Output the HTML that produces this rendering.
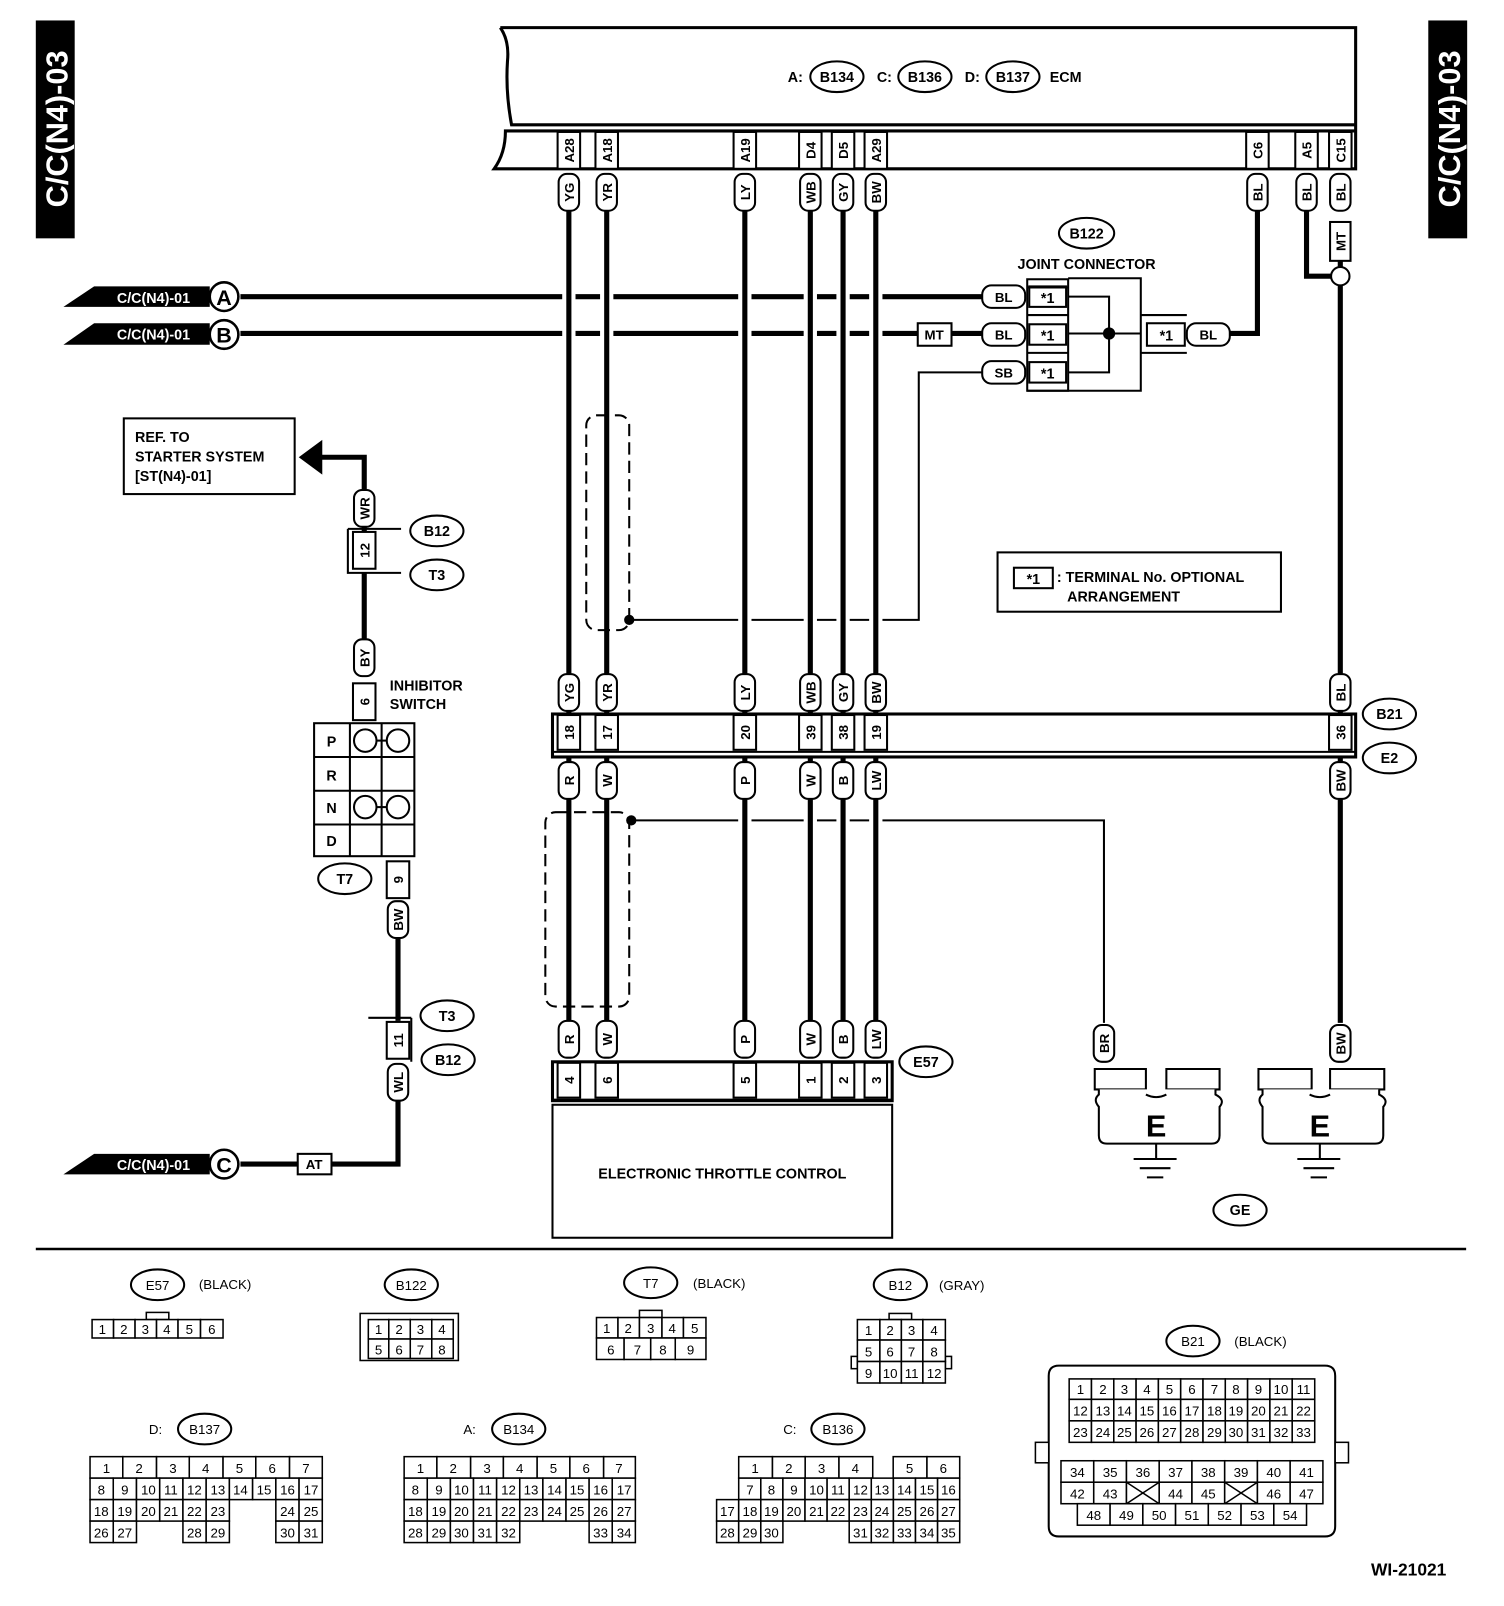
<!DOCTYPE html>
<html><head><meta charset="utf-8"><style>
html,body{margin:0;padding:0;background:#fff}
svg{display:block}
text{font-family:"Liberation Sans",Arial,sans-serif;font-weight:bold;fill:#000}
.p rect{fill:#fff;stroke:#000;stroke-width:2}
.p text{font-size:13px;text-anchor:middle}
.w{stroke:#000;stroke-width:5;fill:none}
.h{stroke:#fff;stroke-width:13;fill:none}
.t{fill:none;stroke:#000;stroke-width:2}
.c text{font-size:13px;text-anchor:middle;font-weight:normal}
.c rect{fill:#fff;stroke:#000;stroke-width:1.5}
</style></head><body>
<svg width="1504" height="1606" viewBox="0 0 1470 1570" preserveAspectRatio="none" xmlns="http://www.w3.org/2000/svg">
<!-- side tags -->
<rect x="35" y="20" width="38" height="213" fill="#000"/>
<text transform="translate(66,126) rotate(-90)" font-size="30" text-anchor="middle" style="fill:#fff">C/C(N4)-03</text>
<rect x="1396" y="20" width="38" height="213" fill="#000"/>
<text transform="translate(1427,126) rotate(-90)" font-size="30" text-anchor="middle" style="fill:#fff">C/C(N4)-03</text>

<!-- ECM -->
<path d="M489,27 L1325,27 L1325,165 L483,165 Q494,150 494,128 L1325,128 M1325,122 L500,122 Q494,90 496,60 Q498,40 489,27" fill="none" stroke="#000" stroke-width="3"/>
<text x="770" y="80" font-size="14">A:</text>
<ellipse cx="818" cy="75" rx="26" ry="15" class="t"/><text x="818" y="80" font-size="14" text-anchor="middle">B134</text>
<text x="857" y="80" font-size="14">C:</text>
<ellipse cx="904" cy="75" rx="26" ry="15" class="t"/><text x="904" y="80" font-size="14" text-anchor="middle">B136</text>
<text x="943" y="80" font-size="14">D:</text>
<ellipse cx="990" cy="75" rx="26" ry="15" class="t"/><text x="990" y="80" font-size="14" text-anchor="middle">B137</text>
<text x="1026" y="80" font-size="14">ECM</text>

<!-- horizontal wires A,B and thin shield lines -->
<path class="w" d="M235,290H962M235,326H897M930,326H962"/>
<path d="M615,606H898V364H962" fill="none" stroke="#000" stroke-width="2"/>
<path d="M617,802H1079V1000" fill="none" stroke="#000" stroke-width="2"/>
<!-- halos for crossings -->
<g class="h"><path d="M556,282V298M593,282V298M728,282V298M792,282V298M824,282V298M856,282V298M556,318V334M593,318V334M728,318V334M792,318V334M824,318V334M856,318V334M728,600V612M792,600V612M824,600V612M856,600V612M728,796V808M792,796V808M824,796V808M856,796V808"/></g>
<!-- vertical main wires -->
<g class="w">
<path d="M556,205V1000M593,205V1000M728,205V1000M792,205V1000M824,205V1000M856,205V1000"/>
<path d="M1229,205V326H1200"/>
<path d="M1277,205V270H1303"/>
<path d="M1310,255V262M1310,278V1000"/>
</g>
<circle cx="1310" cy="270" r="9" fill="#fff" stroke="#000" stroke-width="2"/>

<!-- ECM terminal boxes -->
<g class="p">
<g transform="translate(556,147)"><rect x="-11" y="-18" width="22" height="36"/><text transform="rotate(-90)" y="5">A28</text></g>
<g transform="translate(593,147)"><rect x="-11" y="-18" width="22" height="36"/><text transform="rotate(-90)" y="5">A18</text></g>
<g transform="translate(728,147)"><rect x="-11" y="-18" width="22" height="36"/><text transform="rotate(-90)" y="5">A19</text></g>
<g transform="translate(792,147)"><rect x="-11" y="-18" width="22" height="36"/><text transform="rotate(-90)" y="5">D4</text></g>
<g transform="translate(824,147)"><rect x="-11" y="-18" width="22" height="36"/><text transform="rotate(-90)" y="5">D5</text></g>
<g transform="translate(856,147)"><rect x="-11" y="-18" width="22" height="36"/><text transform="rotate(-90)" y="5">A29</text></g>
<g transform="translate(1229,147)"><rect x="-11" y="-18" width="22" height="36"/><text transform="rotate(-90)" y="5">C6</text></g>
<g transform="translate(1277,147)"><rect x="-11" y="-18" width="22" height="36"/><text transform="rotate(-90)" y="5">A5</text></g>
<g transform="translate(1310,147)"><rect x="-11" y="-18" width="22" height="36"/><text transform="rotate(-90)" y="5">C15</text></g>
<g transform="translate(556,188)"><rect x="-10" y="-18" width="20" height="36" rx="8"/><text transform="rotate(-90)" y="5">YG</text></g>
<g transform="translate(593,188)"><rect x="-10" y="-18" width="20" height="36" rx="8"/><text transform="rotate(-90)" y="5">YR</text></g>
<g transform="translate(728,188)"><rect x="-10" y="-18" width="20" height="36" rx="8"/><text transform="rotate(-90)" y="5">LY</text></g>
<g transform="translate(792,188)"><rect x="-10" y="-18" width="20" height="36" rx="8"/><text transform="rotate(-90)" y="5">WB</text></g>
<g transform="translate(824,188)"><rect x="-10" y="-18" width="20" height="36" rx="8"/><text transform="rotate(-90)" y="5">GY</text></g>
<g transform="translate(856,188)"><rect x="-10" y="-18" width="20" height="36" rx="8"/><text transform="rotate(-90)" y="5">BW</text></g>
<g transform="translate(1229,188)"><rect x="-10" y="-18" width="20" height="36" rx="8"/><text transform="rotate(-90)" y="5">BL</text></g>
<g transform="translate(1277,188)"><rect x="-10" y="-18" width="20" height="36" rx="8"/><text transform="rotate(-90)" y="5">BL</text></g>
<g transform="translate(1310,188)"><rect x="-10" y="-18" width="20" height="36" rx="8"/><text transform="rotate(-90)" y="5">BL</text></g>
<g transform="translate(1310,236)"><rect x="-10" y="-19" width="20" height="38"/><text transform="rotate(-90)" y="5">MT</text></g>
<g transform="translate(556,677)"><rect x="-10" y="-18" width="20" height="36" rx="8"/><text transform="rotate(-90)" y="5">YG</text></g>
<g transform="translate(593,677)"><rect x="-10" y="-18" width="20" height="36" rx="8"/><text transform="rotate(-90)" y="5">YR</text></g>
<g transform="translate(728,677)"><rect x="-10" y="-18" width="20" height="36" rx="8"/><text transform="rotate(-90)" y="5">LY</text></g>
<g transform="translate(792,677)"><rect x="-10" y="-18" width="20" height="36" rx="8"/><text transform="rotate(-90)" y="5">WB</text></g>
<g transform="translate(824,677)"><rect x="-10" y="-18" width="20" height="36" rx="8"/><text transform="rotate(-90)" y="5">GY</text></g>
<g transform="translate(856,677)"><rect x="-10" y="-18" width="20" height="36" rx="8"/><text transform="rotate(-90)" y="5">BW</text></g>
<g transform="translate(1310,677)"><rect x="-10" y="-18" width="20" height="36" rx="8"/><text transform="rotate(-90)" y="5">BL</text></g>
</g>
<!-- B21/E2 strip -->
<rect x="540" y="698" width="785" height="42" fill="#fff" stroke="#000" stroke-width="3"/>
<line x1="540" y1="735" x2="1325" y2="735" stroke="#000" stroke-width="2"/>
<g class="p">
<g transform="translate(556,716)"><rect x="-11" y="-17" width="22" height="34"/><text transform="rotate(-90)" y="5">18</text></g>
<g transform="translate(593,716)"><rect x="-11" y="-17" width="22" height="34"/><text transform="rotate(-90)" y="5">17</text></g>
<g transform="translate(728,716)"><rect x="-11" y="-17" width="22" height="34"/><text transform="rotate(-90)" y="5">20</text></g>
<g transform="translate(792,716)"><rect x="-11" y="-17" width="22" height="34"/><text transform="rotate(-90)" y="5">39</text></g>
<g transform="translate(824,716)"><rect x="-11" y="-17" width="22" height="34"/><text transform="rotate(-90)" y="5">38</text></g>
<g transform="translate(856,716)"><rect x="-11" y="-17" width="22" height="34"/><text transform="rotate(-90)" y="5">19</text></g>
<g transform="translate(1310,716)"><rect x="-11" y="-17" width="22" height="34"/><text transform="rotate(-90)" y="5">36</text></g>
<g transform="translate(556,763)"><rect x="-10" y="-18" width="20" height="36" rx="8"/><text transform="rotate(-90)" y="5">R</text></g>
<g transform="translate(593,763)"><rect x="-10" y="-18" width="20" height="36" rx="8"/><text transform="rotate(-90)" y="5">W</text></g>
<g transform="translate(728,763)"><rect x="-10" y="-18" width="20" height="36" rx="8"/><text transform="rotate(-90)" y="5">P</text></g>
<g transform="translate(792,763)"><rect x="-10" y="-18" width="20" height="36" rx="8"/><text transform="rotate(-90)" y="5">W</text></g>
<g transform="translate(824,763)"><rect x="-10" y="-18" width="20" height="36" rx="8"/><text transform="rotate(-90)" y="5">B</text></g>
<g transform="translate(856,763)"><rect x="-10" y="-18" width="20" height="36" rx="8"/><text transform="rotate(-90)" y="5">LW</text></g>
<g transform="translate(1310,763)"><rect x="-10" y="-18" width="20" height="36" rx="8"/><text transform="rotate(-90)" y="5">BW</text></g>
<g transform="translate(556,1016)"><rect x="-10" y="-18" width="20" height="36" rx="8"/><text transform="rotate(-90)" y="5">R</text></g>
<g transform="translate(593,1016)"><rect x="-10" y="-18" width="20" height="36" rx="8"/><text transform="rotate(-90)" y="5">W</text></g>
<g transform="translate(728,1016)"><rect x="-10" y="-18" width="20" height="36" rx="8"/><text transform="rotate(-90)" y="5">P</text></g>
<g transform="translate(792,1016)"><rect x="-10" y="-18" width="20" height="36" rx="8"/><text transform="rotate(-90)" y="5">W</text></g>
<g transform="translate(824,1016)"><rect x="-10" y="-18" width="20" height="36" rx="8"/><text transform="rotate(-90)" y="5">B</text></g>
<g transform="translate(856,1016)"><rect x="-10" y="-18" width="20" height="36" rx="8"/><text transform="rotate(-90)" y="5">LW</text></g>
<g transform="translate(1310,1020)"><rect x="-10" y="-18" width="20" height="36" rx="8"/><text transform="rotate(-90)" y="5">BW</text></g>
<g transform="translate(1079,1020)"><rect x="-10" y="-18" width="20" height="36" rx="8"/><text transform="rotate(-90)" y="5">BR</text></g>
</g>
<ellipse cx="1358" cy="698" rx="26" ry="15" class="t"/><text x="1358" y="703" font-size="14" text-anchor="middle">B21</text>
<ellipse cx="1358" cy="741" rx="26" ry="15" class="t"/><text x="1358" y="746" font-size="14" text-anchor="middle">E2</text>

<!-- E57 strip + ETC -->
<rect x="540" y="1038" width="332" height="38" fill="#fff" stroke="#000" stroke-width="3"/>
<line x1="540" y1="1075" x2="872" y2="1075" stroke="#000" stroke-width="2"/>
<g class="p">
<g transform="translate(556,1056)"><rect x="-11" y="-17" width="22" height="34"/><text transform="rotate(-90)" y="5">4</text></g>
<g transform="translate(593,1056)"><rect x="-11" y="-17" width="22" height="34"/><text transform="rotate(-90)" y="5">6</text></g>
<g transform="translate(728,1056)"><rect x="-11" y="-17" width="22" height="34"/><text transform="rotate(-90)" y="5">5</text></g>
<g transform="translate(792,1056)"><rect x="-11" y="-17" width="22" height="34"/><text transform="rotate(-90)" y="5">1</text></g>
<g transform="translate(824,1056)"><rect x="-11" y="-17" width="22" height="34"/><text transform="rotate(-90)" y="5">2</text></g>
<g transform="translate(856,1056)"><rect x="-11" y="-17" width="22" height="34"/><text transform="rotate(-90)" y="5">3</text></g>
</g>
<ellipse cx="905" cy="1038" rx="26" ry="15" class="t"/><text x="905" y="1043" font-size="14" text-anchor="middle">E57</text>
<rect x="540" y="1080" width="332" height="130" fill="none" stroke="#000" stroke-width="2"/>
<text x="706" y="1152" font-size="14" text-anchor="middle">ELECTRONIC THROTTLE CONTROL</text>

<!-- shields -->
<rect x="573" y="406" width="42" height="210" rx="10" fill="none" stroke="#000" stroke-width="2" stroke-dasharray="12,6"/>
<rect x="533" y="794" width="82" height="190" rx="10" fill="none" stroke="#000" stroke-width="2" stroke-dasharray="12,6"/>
<circle cx="615" cy="606" r="5"/><circle cx="617" cy="802" r="5"/>

<!-- left tags A B C -->
<polygon points="62,300 92,280 205,280 205,300" fill="#000"/><text x="150" y="296" font-size="14" text-anchor="middle" font-weight="normal" style="fill:#fff">C/C(N4)-01</text>
<circle cx="219" cy="290" r="14" fill="#fff" stroke="#000" stroke-width="2.5"/><text x="219" y="298" font-size="21" text-anchor="middle">A</text>
<polygon points="62,337 92,316 205,316 205,337" fill="#000"/><text x="150" y="332" font-size="14" text-anchor="middle" font-weight="normal" style="fill:#fff">C/C(N4)-01</text>
<circle cx="219" cy="327" r="14" fill="#fff" stroke="#000" stroke-width="2.5"/><text x="219" y="335" font-size="21" text-anchor="middle">B</text>
<polygon points="62,1148 92,1128 205,1128 205,1148" fill="#000"/><text x="150" y="1144" font-size="14" text-anchor="middle" font-weight="normal" style="fill:#fff">C/C(N4)-01</text>
<circle cx="219" cy="1138" r="14" fill="#fff" stroke="#000" stroke-width="2.5"/><text x="219" y="1146" font-size="21" text-anchor="middle">C</text>

<!-- left circuit wires -->
<path class="w" d="M313,447H356V480M356,515V520M356,560V627M389,918V998M389,1075V1138H235"/>

<!-- joint connector -->
<g class="p">
<rect x="960" y="279" width="42" height="22" rx="9"/><text x="981" y="295">BL</text>
<rect x="960" y="316" width="42" height="22" rx="9"/><text x="981" y="332">BL</text>
<rect x="960" y="353" width="42" height="22" rx="9"/><text x="981" y="369">SB</text>
<rect x="897" y="316" width="33" height="22"/><text x="913" y="332">MT</text>
<rect x="1160" y="316" width="42" height="22" rx="9"/><text x="1181" y="332">BL</text>
<rect x="291" y="1128" width="33" height="20"/><text x="307" y="1143">AT</text>
</g>
<rect x="1004" y="273" width="40" height="109" fill="none" stroke="#000" stroke-width="2"/>
<g fill="none" stroke="#000" stroke-width="2">
<path d="M1004,281H1044M1004,308H1044M1004,345H1044M1004,382H1044"/>
<rect x="1006" y="280" width="36" height="20"/><rect x="1006" y="317" width="36" height="20"/><rect x="1006" y="354" width="36" height="20"/>
<path d="M1044,272H1115V382H1044"/>
<path d="M1044,290H1084V364H1044M1044,326H1115"/>
<path d="M1115,308H1160M1115,345H1160"/>
<rect x="1121" y="316" width="37" height="22"/>
</g>
<circle cx="1084" cy="326" r="6"/>
<text x="1024" y="296" font-size="14" text-anchor="middle">*1</text>
<text x="1024" y="333" font-size="14" text-anchor="middle">*1</text>
<text x="1024" y="370" font-size="14" text-anchor="middle">*1</text>
<text x="1140" y="333" font-size="14" text-anchor="middle">*1</text>
<ellipse cx="1062" cy="228" rx="27" ry="15" class="t"/><text x="1062" y="233" font-size="14" text-anchor="middle">B122</text>
<text x="1062" y="263" font-size="14" text-anchor="middle">JOINT CONNECTOR</text>

<!-- legend -->
<rect x="975" y="540" width="277" height="58" fill="none" stroke="#000" stroke-width="2"/>
<rect x="991" y="555" width="38" height="20" fill="none" stroke="#000" stroke-width="2"/>
<text x="1010" y="571" font-size="14" text-anchor="middle">*1</text>
<text x="1033" y="569" font-size="14">: TERMINAL No. OPTIONAL</text>
<text x="1043" y="588" font-size="14">ARRANGEMENT</text>

<!-- left circuit -->
<rect x="121" y="409" width="167" height="74" fill="none" stroke="#000" stroke-width="2"/>
<text x="132" y="432" font-size="14">REF. TO</text>
<text x="132" y="451" font-size="14">STARTER SYSTEM</text>
<text x="132" y="470" font-size="14">[ST(N4)-01]</text>
<polygon points="292,447 315,430 315,464" fill="#000"/>
<g class="p">
<g transform="translate(356,497)"><rect x="-10" y="-18" width="20" height="36" rx="8"/><text transform="rotate(-90)" y="5">WR</text></g>
<g transform="translate(356,643)"><rect x="-10" y="-18" width="20" height="36" rx="8"/><text transform="rotate(-90)" y="5">BY</text></g>
<g transform="translate(389,899)"><rect x="-10" y="-18" width="20" height="36" rx="8"/><text transform="rotate(-90)" y="5">BW</text></g>
<g transform="translate(389,1058)"><rect x="-10" y="-18" width="20" height="36" rx="8"/><text transform="rotate(-90)" y="5">WL</text></g>
<g transform="translate(356,538)"><rect x="-11" y="-18" width="22" height="36"/><text transform="rotate(-90)" y="5">12</text></g>
<g transform="translate(356,686)"><rect x="-11" y="-18" width="22" height="36"/><text transform="rotate(-90)" y="5">6</text></g>
<g transform="translate(389,860)"><rect x="-11" y="-18" width="22" height="36"/><text transform="rotate(-90)" y="5">9</text></g>
<g transform="translate(389,1017)"><rect x="-11" y="-18" width="22" height="36"/><text transform="rotate(-90)" y="5">11</text></g>
</g>
<path d="M340,517H392M340,517V560H392M402,995H360M402,995V1038" fill="none" stroke="#000" stroke-width="2"/>
<ellipse cx="427" cy="519" rx="26" ry="15" class="t"/><text x="427" y="524" font-size="14" text-anchor="middle">B12</text>
<ellipse cx="427" cy="562" rx="26" ry="15" class="t"/><text x="427" y="567" font-size="14" text-anchor="middle">T3</text>
<ellipse cx="437" cy="993" rx="26" ry="15" class="t"/><text x="437" y="998" font-size="14" text-anchor="middle">T3</text>
<ellipse cx="438" cy="1036" rx="26" ry="15" class="t"/><text x="438" y="1041" font-size="14" text-anchor="middle">B12</text>
<text x="381" y="675" font-size="14">INHIBITOR</text>
<text x="381" y="693" font-size="14">SWITCH</text>
<g fill="none" stroke="#000" stroke-width="2">
<rect x="307" y="707" width="98" height="130"/>
<path d="M342,707V837M373,707V837M307,740H405M307,773H405M307,806H405"/>
<circle cx="357" cy="724" r="11"/><circle cx="389" cy="724" r="11"/><path d="M368,724H378"/>
<circle cx="357" cy="789" r="11"/><circle cx="389" cy="789" r="11"/><path d="M368,789H378"/>
</g>
<text x="324" y="730" font-size="14" text-anchor="middle">P</text>
<text x="324" y="763" font-size="14" text-anchor="middle">R</text>
<text x="324" y="795" font-size="14" text-anchor="middle">N</text>
<text x="324" y="827" font-size="14" text-anchor="middle">D</text>
<ellipse cx="337" cy="859" rx="26" ry="15" class="t"/><text x="337" y="864" font-size="14" text-anchor="middle">T7</text>

<!-- grounds -->
<g fill="#fff" stroke="#000" stroke-width="2">
<path d="M1070,1045H1120V1065H1070Z M1140,1045H1192V1065H1140Z"/>
<path d="M1074,1065V1070Q1068,1075 1074,1082V1110Q1074,1118 1082,1118H1184Q1192,1118 1192,1110V1082Q1198,1075 1188,1070V1065"/>
<path d="M1230,1045H1282V1065H1230Z M1300,1045H1353V1065H1300Z"/>
<path d="M1234,1065V1070Q1228,1075 1234,1082V1110Q1234,1118 1242,1118H1344Q1352,1118 1352,1110V1082Q1358,1075 1348,1070V1065"/>
</g>
<path d="M1120,1070Q1130,1075 1140,1070M1280,1070Q1290,1075 1300,1070" fill="none" stroke="#000" stroke-width="2"/>
<text x="1130" y="1111" font-size="30" text-anchor="middle">E</text>
<text x="1290" y="1111" font-size="30" text-anchor="middle">E</text>
<path d="M1108,1133H1150M1114,1142H1144M1121,1151H1137M1268,1133H1310M1274,1142H1304M1281,1151H1297" stroke="#000" stroke-width="2"/>
<path d="M1130,1118V1133M1290,1118V1133" stroke="#000" stroke-width="2"/>
<ellipse cx="1212" cy="1183" rx="26" ry="15" class="t"/><text x="1212" y="1188" font-size="14" text-anchor="middle">GE</text>

<line x1="35" y1="1221" x2="1433" y2="1221" stroke="#000" stroke-width="2.5"/>

<!-- connector legends -->
<g class="c">
<ellipse cx="154" cy="1256" rx="26" ry="15" class="t"/><text x="154" y="1261" font-size="14" font-weight="bold">E57</text>
<text x="220" y="1260" font-weight="bold" font-size="14">(BLACK)</text>
<rect x="143" y="1283" width="22" height="7"/>
<rect x="90" y="1290" width="21" height="18"/><text x="100" y="1304">1</text>
<rect x="111" y="1290" width="21" height="18"/><text x="121" y="1304">2</text>
<rect x="132" y="1290" width="21" height="18"/><text x="142" y="1304">3</text>
<rect x="153" y="1290" width="21" height="18"/><text x="163" y="1304">4</text>
<rect x="174" y="1290" width="22" height="18"/><text x="185" y="1304">5</text>
<rect x="196" y="1290" width="22" height="18"/><text x="207" y="1304">6</text>
<ellipse cx="402" cy="1256" rx="26" ry="15" class="t"/><text x="402" y="1261" font-size="14" font-weight="bold">B122</text>
<rect x="352" y="1284" width="96" height="46"/>
<rect x="360" y="1290" width="20" height="19"/><text x="370" y="1304">1</text>
<rect x="380" y="1290" width="21" height="19"/><text x="390" y="1304">2</text>
<rect x="401" y="1290" width="21" height="19"/><text x="411" y="1304">3</text>
<rect x="422" y="1290" width="21" height="19"/><text x="432" y="1304">4</text>
<rect x="360" y="1309" width="20" height="19"/><text x="370" y="1324">5</text>
<rect x="380" y="1309" width="21" height="19"/><text x="390" y="1324">6</text>
<rect x="401" y="1309" width="21" height="19"/><text x="411" y="1324">7</text>
<rect x="422" y="1309" width="21" height="19"/><text x="432" y="1324">8</text>
<ellipse cx="636" cy="1254" rx="26" ry="15" class="t"/><text x="636" y="1259" font-size="14" font-weight="bold">T7</text>
<text x="703" y="1259" font-weight="bold" font-size="14">(BLACK)</text>
<rect x="625" y="1281" width="22" height="7"/>
<rect x="583" y="1288" width="21" height="20"/><text x="593" y="1303">1</text>
<rect x="604" y="1288" width="21" height="20"/><text x="614" y="1303">2</text>
<rect x="625" y="1288" width="22" height="20"/><text x="636" y="1303">3</text>
<rect x="647" y="1288" width="21" height="20"/><text x="657" y="1303">4</text>
<rect x="668" y="1288" width="22" height="20"/><text x="679" y="1303">5</text>
<rect x="583" y="1308" width="27" height="21"/><text x="597" y="1324">6</text>
<rect x="610" y="1308" width="26" height="21"/><text x="623" y="1324">7</text>
<rect x="636" y="1308" width="24" height="21"/><text x="648" y="1324">8</text>
<rect x="660" y="1308" width="30" height="21"/><text x="675" y="1324">9</text>
<ellipse cx="880" cy="1256" rx="26" ry="15" class="t"/><text x="880" y="1261" font-size="14" font-weight="bold">B12</text>
<text x="940" y="1261" font-weight="bold" font-size="14">(GRAY)</text>
<rect x="869" y="1284" width="22" height="6"/>
<rect x="832" y="1326" width="6" height="12"/><rect x="924" y="1326" width="6" height="12"/>
<rect x="838" y="1290" width="22" height="20"/><text x="849" y="1305">1</text>
<rect x="860" y="1290" width="21" height="20"/><text x="870" y="1305">2</text>
<rect x="881" y="1290" width="21" height="20"/><text x="891" y="1305">3</text>
<rect x="902" y="1290" width="22" height="20"/><text x="913" y="1305">4</text>
<rect x="838" y="1310" width="22" height="21"/><text x="849" y="1326">5</text>
<rect x="860" y="1310" width="21" height="21"/><text x="870" y="1326">6</text>
<rect x="881" y="1310" width="21" height="21"/><text x="891" y="1326">7</text>
<rect x="902" y="1310" width="22" height="21"/><text x="913" y="1326">8</text>
<rect x="838" y="1331" width="22" height="21"/><text x="849" y="1347">9</text>
<rect x="860" y="1331" width="21" height="21"/><text x="870" y="1347">10</text>
<rect x="881" y="1331" width="21" height="21"/><text x="891" y="1347">11</text>
<rect x="902" y="1331" width="22" height="21"/><text x="913" y="1347">12</text>

<ellipse cx="1166" cy="1311" rx="26" ry="15" class="t"/><text x="1166" y="1316" font-size="14" font-weight="bold">B21</text>
<text x="1232" y="1316" font-weight="bold" font-size="14">(BLACK)</text>
<path d="M1035,1335H1295Q1305,1335 1305,1345V1492Q1305,1502 1295,1502H1035Q1025,1502 1025,1492V1345Q1025,1335 1035,1335Z" fill="none" stroke="#000" stroke-width="2"/>
<rect x="1012" y="1410" width="13" height="20"/><rect x="1305" y="1410" width="13" height="20"/>
<g font-size="12">
<rect x="1045" y="1348" width="21.8" height="20"/><text x="1056" y="1363">1</text>
<rect x="1066.8" y="1348" width="21.8" height="20"/><text x="1078" y="1363">2</text>
<rect x="1088.6" y="1348" width="21.8" height="20"/><text x="1099" y="1363">3</text>
<rect x="1110.4" y="1348" width="21.8" height="20"/><text x="1121" y="1363">4</text>
<rect x="1132.2" y="1348" width="21.8" height="20"/><text x="1143" y="1363">5</text>
<rect x="1154" y="1348" width="21.8" height="20"/><text x="1165" y="1363">6</text>
<rect x="1175.8" y="1348" width="21.8" height="20"/><text x="1187" y="1363">7</text>
<rect x="1197.6" y="1348" width="21.8" height="20"/><text x="1208" y="1363">8</text>
<rect x="1219.4" y="1348" width="21.8" height="20"/><text x="1230" y="1363">9</text>
<rect x="1241.2" y="1348" width="21.8" height="20"/><text x="1252" y="1363">10</text>
<rect x="1263" y="1348" width="22" height="20"/><text x="1274" y="1363">11</text>
<rect x="1045" y="1368" width="21.8" height="21"/><text x="1056" y="1384">12</text>
<rect x="1066.8" y="1368" width="21.8" height="21"/><text x="1078" y="1384">13</text>
<rect x="1088.6" y="1368" width="21.8" height="21"/><text x="1099" y="1384">14</text>
<rect x="1110.4" y="1368" width="21.8" height="21"/><text x="1121" y="1384">15</text>
<rect x="1132.2" y="1368" width="21.8" height="21"/><text x="1143" y="1384">16</text>
<rect x="1154" y="1368" width="21.8" height="21"/><text x="1165" y="1384">17</text>
<rect x="1175.8" y="1368" width="21.8" height="21"/><text x="1187" y="1384">18</text>
<rect x="1197.6" y="1368" width="21.8" height="21"/><text x="1208" y="1384">19</text>
<rect x="1219.4" y="1368" width="21.8" height="21"/><text x="1230" y="1384">20</text>
<rect x="1241.2" y="1368" width="21.8" height="21"/><text x="1252" y="1384">21</text>
<rect x="1263" y="1368" width="22" height="21"/><text x="1274" y="1384">22</text>
<rect x="1045" y="1389" width="21.8" height="21"/><text x="1056" y="1405">23</text>
<rect x="1066.8" y="1389" width="21.8" height="21"/><text x="1078" y="1405">24</text>
<rect x="1088.6" y="1389" width="21.8" height="21"/><text x="1099" y="1405">25</text>
<rect x="1110.4" y="1389" width="21.8" height="21"/><text x="1121" y="1405">26</text>
<rect x="1132.2" y="1389" width="21.8" height="21"/><text x="1143" y="1405">27</text>
<rect x="1154" y="1389" width="21.8" height="21"/><text x="1165" y="1405">28</text>
<rect x="1175.8" y="1389" width="21.8" height="21"/><text x="1187" y="1405">29</text>
<rect x="1197.6" y="1389" width="21.8" height="21"/><text x="1208" y="1405">30</text>
<rect x="1219.4" y="1389" width="21.8" height="21"/><text x="1230" y="1405">31</text>
<rect x="1241.2" y="1389" width="21.8" height="21"/><text x="1252" y="1405">32</text>
<rect x="1263" y="1389" width="22" height="21"/><text x="1274" y="1405">33</text>
<rect x="1037" y="1428" width="32" height="21"/><text x="1053" y="1444">34</text>
<rect x="1069" y="1428" width="32" height="21"/><text x="1085" y="1444">35</text>
<rect x="1101" y="1428" width="32" height="21"/><text x="1117" y="1444">36</text>
<rect x="1133" y="1428" width="32" height="21"/><text x="1149" y="1444">37</text>
<rect x="1165" y="1428" width="32" height="21"/><text x="1181" y="1444">38</text>
<rect x="1197" y="1428" width="32" height="21"/><text x="1213" y="1444">39</text>
<rect x="1229" y="1428" width="32" height="21"/><text x="1245" y="1444">40</text>
<rect x="1261" y="1428" width="32" height="21"/><text x="1277" y="1444">41</text>
<rect x="1037" y="1449" width="32" height="21"/><text x="1053" y="1465">42</text>
<rect x="1069" y="1449" width="32" height="21"/><text x="1085" y="1465">43</text>
<rect x="1101" y="1449" width="32" height="21"/><path d="M1101,1449L1133,1470M1133,1449L1101,1470" stroke="#000" stroke-width="1.5"/>
<rect x="1133" y="1449" width="32" height="21"/><text x="1149" y="1465">44</text>
<rect x="1165" y="1449" width="32" height="21"/><text x="1181" y="1465">45</text>
<rect x="1197" y="1449" width="32" height="21"/><path d="M1197,1449L1229,1470M1229,1449L1197,1470" stroke="#000" stroke-width="1.5"/>
<rect x="1229" y="1449" width="32" height="21"/><text x="1245" y="1465">46</text>
<rect x="1261" y="1449" width="32" height="21"/><text x="1277" y="1465">47</text>
<rect x="1053" y="1470" width="32" height="21"/><text x="1069" y="1486">48</text>
<rect x="1085" y="1470" width="32" height="21"/><text x="1101" y="1486">49</text>
<rect x="1117" y="1470" width="32" height="21"/><text x="1133" y="1486">50</text>
<rect x="1149" y="1470" width="32" height="21"/><text x="1165" y="1486">51</text>
<rect x="1181" y="1470" width="32" height="21"/><text x="1197" y="1486">52</text>
<rect x="1213" y="1470" width="32" height="21"/><text x="1229" y="1486">53</text>
<rect x="1245" y="1470" width="32" height="21"/><text x="1261" y="1486">54</text>
</g>

<text x="152" y="1402" font-weight="bold" font-size="14">D:</text>
<ellipse cx="200" cy="1397" rx="26" ry="15" class="t"/><text x="200" y="1402" font-size="14" font-weight="bold">B137</text>
<g font-size="12">
<rect x="88" y="1424" width="32" height="21"/><text x="104" y="1440">1</text>
<rect x="120" y="1424" width="33" height="21"/><text x="136" y="1440">2</text>
<rect x="153" y="1424" width="32" height="21"/><text x="169" y="1440">3</text>
<rect x="185" y="1424" width="33" height="21"/><text x="201" y="1440">4</text>
<rect x="218" y="1424" width="32" height="21"/><text x="234" y="1440">5</text>
<rect x="250" y="1424" width="33" height="21"/><text x="266" y="1440">6</text>
<rect x="283" y="1424" width="32" height="21"/><text x="299" y="1440">7</text>
<rect x="88" y="1445" width="22.7" height="21"/><text x="99" y="1461">8</text>
<rect x="110.7" y="1445" width="22.7" height="21"/><text x="122" y="1461">9</text>
<rect x="133.4" y="1445" width="22.7" height="21"/><text x="145" y="1461">10</text>
<rect x="156.1" y="1445" width="22.7" height="21"/><text x="167" y="1461">11</text>
<rect x="178.8" y="1445" width="22.7" height="21"/><text x="190" y="1461">12</text>
<rect x="201.5" y="1445" width="22.7" height="21"/><text x="213" y="1461">13</text>
<rect x="224.2" y="1445" width="22.7" height="21"/><text x="235" y="1461">14</text>
<rect x="246.9" y="1445" width="22.7" height="21"/><text x="258" y="1461">15</text>
<rect x="269.6" y="1445" width="22.7" height="21"/><text x="281" y="1461">16</text>
<rect x="292.3" y="1445" width="22.7" height="21"/><text x="304" y="1461">17</text>
<rect x="88" y="1466" width="22.7" height="21"/><text x="99" y="1482">18</text>
<rect x="110.7" y="1466" width="22.7" height="21"/><text x="122" y="1482">19</text>
<rect x="133.4" y="1466" width="22.7" height="21"/><text x="145" y="1482">20</text>
<rect x="156.1" y="1466" width="22.7" height="21"/><text x="167" y="1482">21</text>
<rect x="178.8" y="1466" width="22.7" height="21"/><text x="190" y="1482">22</text>
<rect x="201.5" y="1466" width="22.7" height="21"/><text x="213" y="1482">23</text>
<rect x="269.6" y="1466" width="22.7" height="21"/><text x="281" y="1482">24</text>
<rect x="292.3" y="1466" width="22.7" height="21"/><text x="304" y="1482">25</text>
<rect x="88" y="1487" width="22.7" height="21"/><text x="99" y="1503">26</text>
<rect x="110.7" y="1487" width="22.7" height="21"/><text x="122" y="1503">27</text>
<rect x="178.8" y="1487" width="22.7" height="21"/><text x="190" y="1503">28</text>
<rect x="201.5" y="1487" width="22.7" height="21"/><text x="213" y="1503">29</text>
<rect x="269.6" y="1487" width="22.7" height="21"/><text x="281" y="1503">30</text>
<rect x="292.3" y="1487" width="22.7" height="21"/><text x="304" y="1503">31</text>
</g>

<text x="459" y="1402" font-weight="bold" font-size="14">A:</text>
<ellipse cx="507" cy="1397" rx="26" ry="15" class="t"/><text x="507" y="1402" font-size="14" font-weight="bold">B134</text>
<g font-size="12">
<rect x="395" y="1424" width="32" height="21"/><text x="411" y="1440">1</text>
<rect x="427" y="1424" width="33" height="21"/><text x="443" y="1440">2</text>
<rect x="460" y="1424" width="32" height="21"/><text x="476" y="1440">3</text>
<rect x="492" y="1424" width="33" height="21"/><text x="508" y="1440">4</text>
<rect x="525" y="1424" width="32" height="21"/><text x="541" y="1440">5</text>
<rect x="557" y="1424" width="33" height="21"/><text x="573" y="1440">6</text>
<rect x="590" y="1424" width="31" height="21"/><text x="605" y="1440">7</text>
<rect x="395" y="1445" width="22.6" height="21"/><text x="406" y="1461">8</text>
<rect x="417.6" y="1445" width="22.6" height="21"/><text x="429" y="1461">9</text>
<rect x="440.2" y="1445" width="22.6" height="21"/><text x="451" y="1461">10</text>
<rect x="462.8" y="1445" width="22.6" height="21"/><text x="474" y="1461">11</text>
<rect x="485.4" y="1445" width="22.6" height="21"/><text x="497" y="1461">12</text>
<rect x="508" y="1445" width="22.6" height="21"/><text x="519" y="1461">13</text>
<rect x="530.6" y="1445" width="22.6" height="21"/><text x="542" y="1461">14</text>
<rect x="553.2" y="1445" width="22.6" height="21"/><text x="564" y="1461">15</text>
<rect x="575.8" y="1445" width="22.6" height="21"/><text x="587" y="1461">16</text>
<rect x="598.4" y="1445" width="22.6" height="21"/><text x="610" y="1461">17</text>
<rect x="395" y="1466" width="22.6" height="21"/><text x="406" y="1482">18</text>
<rect x="417.6" y="1466" width="22.6" height="21"/><text x="429" y="1482">19</text>
<rect x="440.2" y="1466" width="22.6" height="21"/><text x="451" y="1482">20</text>
<rect x="462.8" y="1466" width="22.6" height="21"/><text x="474" y="1482">21</text>
<rect x="485.4" y="1466" width="22.6" height="21"/><text x="497" y="1482">22</text>
<rect x="508" y="1466" width="22.6" height="21"/><text x="519" y="1482">23</text>
<rect x="530.6" y="1466" width="22.6" height="21"/><text x="542" y="1482">24</text>
<rect x="553.2" y="1466" width="22.6" height="21"/><text x="564" y="1482">25</text>
<rect x="575.8" y="1466" width="22.6" height="21"/><text x="587" y="1482">26</text>
<rect x="598.4" y="1466" width="22.6" height="21"/><text x="610" y="1482">27</text>
<rect x="395" y="1487" width="22.6" height="21"/><text x="406" y="1503">28</text>
<rect x="417.6" y="1487" width="22.6" height="21"/><text x="429" y="1503">29</text>
<rect x="440.2" y="1487" width="22.6" height="21"/><text x="451" y="1503">30</text>
<rect x="462.8" y="1487" width="22.6" height="21"/><text x="474" y="1503">31</text>
<rect x="485.4" y="1487" width="22.6" height="21"/><text x="497" y="1503">32</text>
<rect x="575.8" y="1487" width="22.6" height="21"/><text x="587" y="1503">33</text>
<rect x="598.4" y="1487" width="22.6" height="21"/><text x="610" y="1503">34</text>
</g>

<text x="772" y="1402" font-weight="bold" font-size="14">C:</text>
<ellipse cx="819" cy="1397" rx="26" ry="15" class="t"/><text x="819" y="1402" font-size="14" font-weight="bold">B136</text>
<g font-size="12">
<rect x="722" y="1424" width="33" height="21"/><text x="738" y="1440">1</text>
<rect x="755" y="1424" width="32" height="21"/><text x="771" y="1440">2</text>
<rect x="787" y="1424" width="33" height="21"/><text x="803" y="1440">3</text>
<rect x="820" y="1424" width="33" height="21"/><text x="836" y="1440">4</text>
<rect x="873" y="1424" width="33" height="21"/><text x="889" y="1440">5</text>
<rect x="906" y="1424" width="32" height="21"/><text x="922" y="1440">6</text>
<rect x="722" y="1445" width="21.6" height="21"/><text x="733" y="1461">7</text>
<rect x="743.6" y="1445" width="21.6" height="21"/><text x="754" y="1461">8</text>
<rect x="765.2" y="1445" width="21.6" height="21"/><text x="776" y="1461">9</text>
<rect x="786.8" y="1445" width="21.6" height="21"/><text x="798" y="1461">10</text>
<rect x="808.4" y="1445" width="21.6" height="21"/><text x="819" y="1461">11</text>
<rect x="830" y="1445" width="21.6" height="21"/><text x="841" y="1461">12</text>
<rect x="851.6" y="1445" width="21.6" height="21"/><text x="862" y="1461">13</text>
<rect x="873.2" y="1445" width="21.6" height="21"/><text x="884" y="1461">14</text>
<rect x="894.8" y="1445" width="21.6" height="21"/><text x="906" y="1461">15</text>
<rect x="916.4" y="1445" width="21.6" height="21"/><text x="927" y="1461">16</text>
<rect x="700.4" y="1466" width="21.6" height="21"/><text x="711" y="1482">17</text>
<rect x="722" y="1466" width="21.6" height="21"/><text x="733" y="1482">18</text>
<rect x="743.6" y="1466" width="21.6" height="21"/><text x="754" y="1482">19</text>
<rect x="765.2" y="1466" width="21.6" height="21"/><text x="776" y="1482">20</text>
<rect x="786.8" y="1466" width="21.6" height="21"/><text x="798" y="1482">21</text>
<rect x="808.4" y="1466" width="21.6" height="21"/><text x="819" y="1482">22</text>
<rect x="830" y="1466" width="21.6" height="21"/><text x="841" y="1482">23</text>
<rect x="851.6" y="1466" width="21.6" height="21"/><text x="862" y="1482">24</text>
<rect x="873.2" y="1466" width="21.6" height="21"/><text x="884" y="1482">25</text>
<rect x="894.8" y="1466" width="21.6" height="21"/><text x="906" y="1482">26</text>
<rect x="916.4" y="1466" width="21.6" height="21"/><text x="927" y="1482">27</text>
<rect x="700.4" y="1487" width="21.6" height="21"/><text x="711" y="1503">28</text>
<rect x="722" y="1487" width="21.6" height="21"/><text x="733" y="1503">29</text>
<rect x="743.6" y="1487" width="21.6" height="21"/><text x="754" y="1503">30</text>
<rect x="830" y="1487" width="21.6" height="21"/><text x="841" y="1503">31</text>
<rect x="851.6" y="1487" width="21.6" height="21"/><text x="862" y="1503">32</text>
<rect x="873.2" y="1487" width="21.6" height="21"/><text x="884" y="1503">33</text>
<rect x="894.8" y="1487" width="21.6" height="21"/><text x="906" y="1503">34</text>
<rect x="916.4" y="1487" width="21.6" height="21"/><text x="927" y="1503">35</text>
</g>
</g>
<text x="1340" y="1540" font-size="17" font-weight="normal">WI-21021</text>
</svg>
</body></html>
